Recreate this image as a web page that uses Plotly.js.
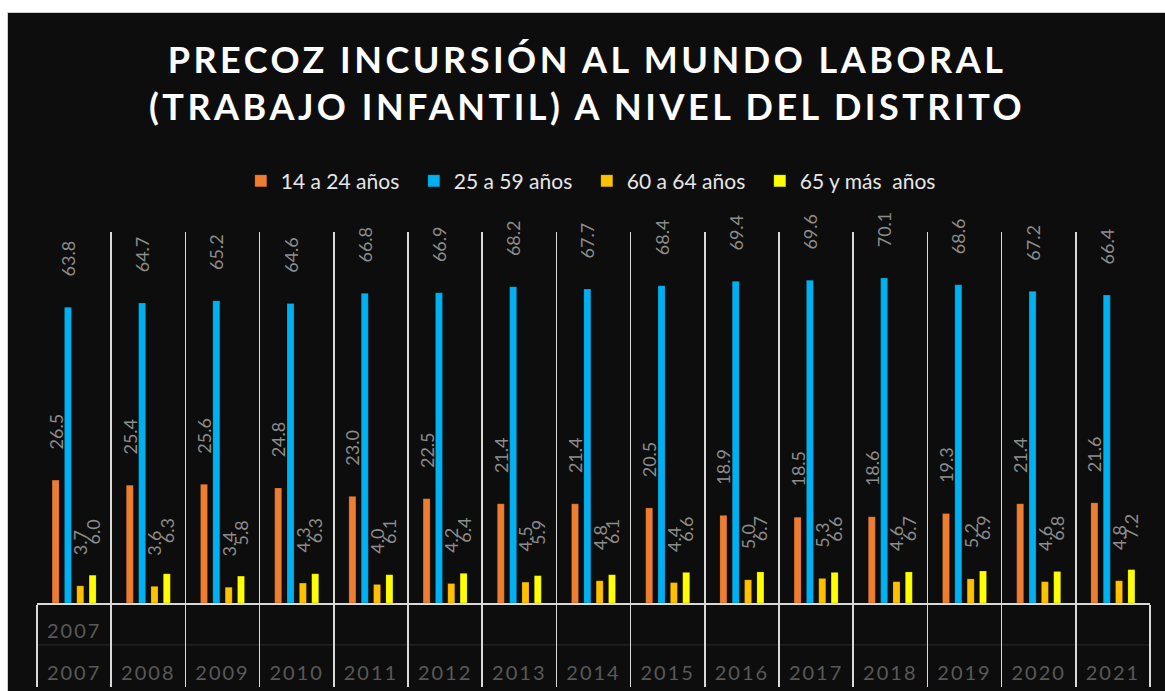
<!DOCTYPE html>
<html>
<head>
<meta charset="utf-8">
<script src="https://cdn.plot.ly/plotly-3.0.1.min.js"></script>
<style>
  body { margin: 0; background: #ffffff; overflow: hidden; }
  #plotArea {
    position: absolute; left: 7px; top: 12px;
    width: 1158px; height: 679px;
    border: 1px solid #d0d0d0; background: #0d0d0d;
  }
  .gtitle { letter-spacing: 3.5px; }
  .xtick text, .annotation-text { letter-spacing: 2px; }
  .legend .scrollbox { clip-path: none !important; }
</style>
</head>
<body>
<div id="plotArea"></div>
<script>
var years = ["2007", "2008", "2009", "2010", "2011", "2012", "2013", "2014",
  "2015", "2016", "2017", "2018", "2019", "2020", "2021"];
var seriesNames = ["14 a 24 años", "25 a 59 años", "60 a 64 años", "65 y más\u00a0 años"];
var age14to24 = [26.5, 25.4, 25.6, 24.8, 23.0, 22.5, 21.4, 21.4, 20.5, 18.9, 18.5, 18.6, 19.3, 21.4, 21.6];
var age25to59 = [63.8, 64.7, 65.2, 64.6, 66.8, 66.9, 68.2, 67.7, 68.4, 69.4, 69.6, 70.1, 68.6, 67.2, 66.4];
var age60to64 = [3.7, 3.6, 3.4, 4.3, 4.0, 4.2, 4.5, 4.8, 4.4, 5.0, 5.3, 4.6, 5.2, 4.6, 4.8];
var age65plus = [6.0, 6.3, 5.8, 6.3, 6.1, 6.4, 5.9, 6.1, 6.6, 6.7, 6.6, 6.7, 6.9, 6.8, 7.2];
var topRowLabel = "2007";

var colors = ["#ED7D31", "#00B0F0", "#FFC000", "#FFFF00"];
var values = [age14to24, age25to59, age60to64, age65plus];
var pad = "\u00a0\u00a0\u00a0\u00a0\u00a0\u00a0";

var data = values.map(function (v, i) {
  return {
    type: "bar",
    name: seriesNames[i],
    x: years,
    y: v,
    marker: { color: colors[i], line: { color: "rgba(0,0,0,0.35)", width: 0.5 } },
    texttemplate: pad + "%{y:.1f}",
    textposition: "outside",
    textangle: -90,
    constraintext: "none",
    cliponaxis: false,
    textfont: { family: "Lato", size: 18, color: "#8c8c8c" },
    hoverinfo: "skip"
  };
});

var layout = {
  width: 1158,
  height: 679,
  paper_bgcolor: "#0d0d0d",
  plot_bgcolor: "#0d0d0d",
  font: { family: "Lato", color: "#d9d9d9" },
  margin: { l: 29, r: 16, t: 219, b: 89 },
  title: {
    text: "PRECOZ INCURSIÓN AL MUNDO LABORAL<br>(TRABAJO INFANTIL) A NIVEL DEL DISTRITO",
    font: { family: "Lato", size: 36, color: "#ffffff", weight: "bold" },
    x: 0.5, xanchor: "center",
    yref: "container", y: 0.911, yanchor: "top"
  },
  showlegend: true,
  legend: {
    orientation: "h",
    x: 0.494, xanchor: "center",
    y: 1.137, yanchor: "middle",
    font: { family: "Lato", size: 21, color: "#e6e6e6" },
    entrywidth: 128, entrywidthmode: "pixels",
    bgcolor: "rgba(0,0,0,0)"
  },
  barmode: "group",
  bargap: 0.335,
  bargroupgap: 0.43,
  xaxis: {
    type: "category",
    range: [-0.5, years.length - 0.5],
    autorange: false,
    tickson: "boundaries",
    showgrid: true,
    gridcolor: "#d9d9d9",
    gridwidth: 1.5,
    showline: true,
    linecolor: "#d9d9d9",
    linewidth: 1.5,
    ticks: "outside",
    ticklen: 82,
    tickwidth: 1.5,
    tickcolor: "#d9d9d9",
    ticklabelstandoff: 51,
    tickangle: 0,
    tickfont: { family: "Lato", size: 20, color: "#595959" },
    zeroline: false
  },
  yaxis: {
    range: [0, 80],
    visible: false,
    showgrid: false,
    zeroline: false
  },
  shapes: [{
    type: "line", xref: "paper", yref: "paper",
    x0: 0, x1: 1, y0: -0.113, y1: -0.113,
    line: { color: "#2b2b2b", width: 1 },
    layer: "below"
  }],
  annotations: [{
    x: years.indexOf(topRowLabel), xref: "x",
    y: 0, yref: "paper",
    yshift: -27, yanchor: "middle",
    text: topRowLabel, showarrow: false,
    font: { family: "Lato", size: 20, color: "#595959" }
  }]
};

Plotly.newPlot("plotArea", data, layout, { displayModeBar: false, staticPlot: true });
</script>
</body>
</html>
